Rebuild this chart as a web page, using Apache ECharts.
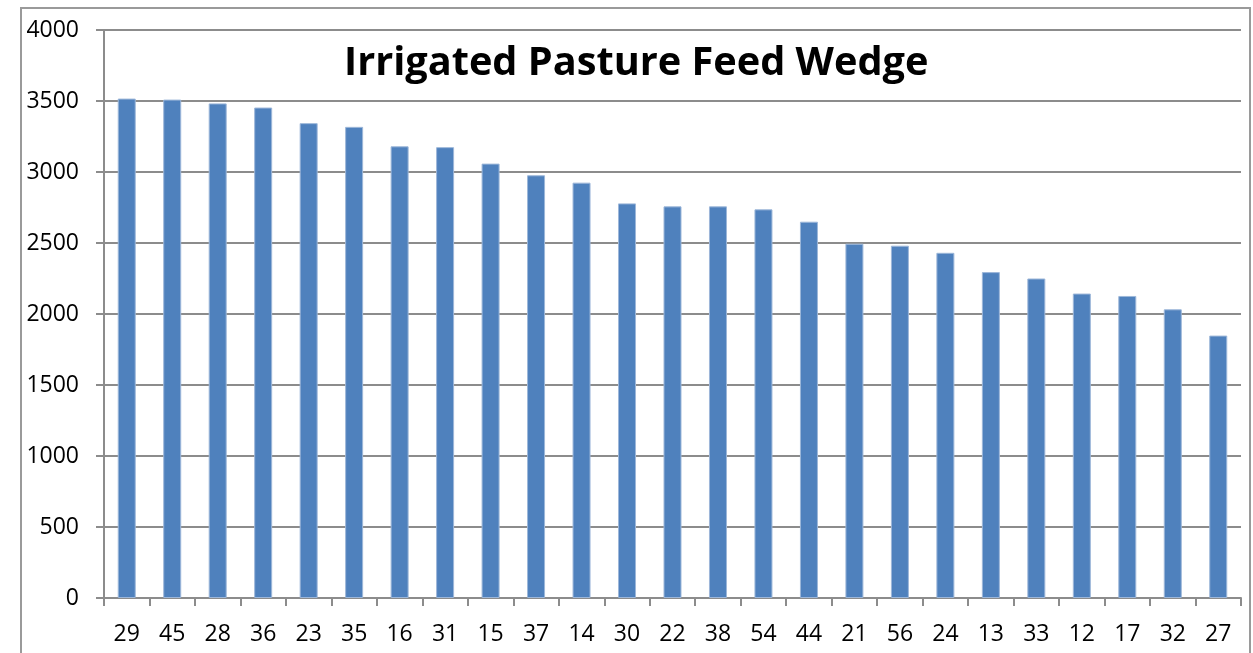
<!DOCTYPE html>
<html lang="en">
<head>
    <meta charset="UTF-8">
    <script src="https://cdn.jsdelivr.net/npm/echarts@6/dist/echarts.min.js"></script>
    <title>Irrigated Pasture Feed Wedge</title>
    <style type="text/css">
        body { margin: 0; }
        .wedge {
            width: 1253px;
            height: 653px;
        }
    </style>
</head>
<body>
    <div id="wedge" class="wedge"></div>
</body>
</html>
<script type="text/javascript">

    // paddock numbers, sorted by cover
    var paddocks = ['29', '45', '28', '36', '23', '35', '16', '31', '15', '37', '14', '30', '22',
        '38', '54', '44', '21', '56', '24', '13', '33', '12', '17', '32', '27'];
    var cover = [3517, 3510, 3483, 3454, 3344, 3318, 3181, 3175, 3059, 2977, 2925, 2779, 2758,
        2758, 2737, 2650, 2495, 2481, 2431, 2295, 2250, 2144, 2127, 2033, 1848];
    var yTicks = { min: 0, max: 4000, interval: 500 };

    var font = 'Open Sans';

    var option = {
        animation: false,
        backgroundColor: '#ffffff',
        title: {
            text: 'Irrigated Pasture Feed Wedge',
            left: 339,
            top: 39,
            textStyle: {
                fontFamily: font,
                fontWeight: 'bold',
                fontSize: 39.7,
                color: '#000000'
            }
        },
        graphic: [{
            type: 'rect',
            shape: { x: 21, y: 8, width: 1229, height: 700 },
            style: { fill: 'none', stroke: '#9a9a9a', lineWidth: 2 },
            silent: true
        }],
        grid: {
            left: 104,
            right: 12,
            top: 30,
            bottom: 55
        },
        xAxis: {
            type: 'category',
            data: paddocks,
            axisLine: { lineStyle: { color: '#8c8c8c', width: 2 } },
            axisTick: { show: true, length: 8, lineStyle: { color: '#8c8c8c', width: 2 } },
            axisLabel: {
                interval: 0,
                margin: 25,
                fontFamily: font,
                fontSize: 23,
                color: '#000000'
            }
        },
        yAxis: {
            type: 'value',
            min: yTicks.min,
            max: yTicks.max,
            interval: yTicks.interval,
            axisLine: { show: true, lineStyle: { color: '#8c8c8c', width: 2 } },
            axisTick: { show: true, length: 8, lineStyle: { color: '#8c8c8c', width: 2 } },
            axisLabel: {
                margin: 25,
                fontFamily: font,
                fontSize: 23,
                color: '#000000',
                formatter: function (v) { return String(v); }
            },
            splitLine: { lineStyle: { color: '#8c8c8c', width: 2 } }
        },
        series: [{
            type: 'bar',
            data: cover,
            barWidth: 18,
            itemStyle: {
                color: '#4f81bd',
                borderColor: '#9db7d9',
                borderWidth: 1
            }
        }]
    };

    var myChart = echarts.init(document.getElementById('wedge'));
    myChart.setOption(option);

</script>
